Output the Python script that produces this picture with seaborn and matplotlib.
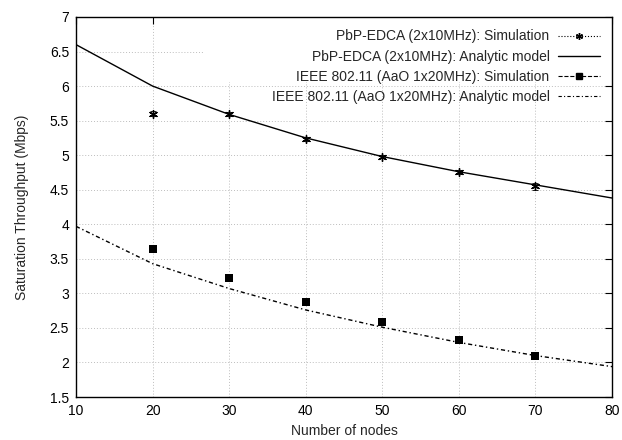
import matplotlib.pyplot as plt
from matplotlib.lines import Line2D
from matplotlib.patches import Rectangle
import pandas as pd
import seaborn as sns

# Data
nodes_model = [10, 20, 30, 40, 50, 60, 70, 80]
pbp_model = [6.60, 6.00, 5.59, 5.25, 4.98, 4.76, 4.57, 4.38]
ieee_model = [3.97, 3.43, 3.07, 2.76, 2.51, 2.29, 2.10, 1.94]

nodes_sim = [20, 30, 40, 50, 60, 70]
pbp_sim = [5.60, 5.60, 5.24, 4.98, 4.76, 4.55]
pbp_err = [0.04, 0.03, 0.03, 0.02, 0.03, 0.05]
ieee_sim = [3.64, 3.22, 2.88, 2.58, 2.32, 2.09]
ieee_err = [0.01, 0.01, 0.01, 0.01, 0.01, 0.01]

labels = [
    'PbP-EDCA (2x10MHz): Simulation',
    'PbP-EDCA (2x10MHz): Analytic model',
    'IEEE 802.11 (AaO 1x20MHz): Simulation',
    'IEEE 802.11 (AaO 1x20MHz): Analytic model',
]

model_df = pd.DataFrame({'nodes': nodes_model, 'pbp': pbp_model, 'ieee': ieee_model})
sim_df = pd.DataFrame({'nodes': nodes_sim, 'pbp': pbp_sim, 'ieee': ieee_sim})

sns.set_style('white')
plt.rcParams['font.family'] = ['Liberation Sans', 'DejaVu Sans']

fig = plt.figure(figsize=(6.22, 4.4), dpi=100)
ax = fig.add_axes([0.1222, 0.0977, 0.8618, 0.8637])

sns.lineplot(data=model_df, x='nodes', y='pbp', ax=ax, color='black', linewidth=1.0, zorder=3)
sns.lineplot(data=model_df, x='nodes', y='ieee', ax=ax, color='black', linewidth=1.0,
             linestyle=(0, (3, 2, 1, 2)), zorder=3)

ax.errorbar(sim_df['nodes'], sim_df['pbp'], yerr=pbp_err, fmt='none', ecolor='black',
            elinewidth=0.6, capsize=2, capthick=0.6, linestyle=':', zorder=3)
sns.scatterplot(data=sim_df, x='nodes', y='pbp', ax=ax, marker=(6, 2, 0), color='black',
                s=32, linewidth=1.0, zorder=4)
ax.errorbar(sim_df['nodes'], sim_df['ieee'], yerr=ieee_err, fmt='none', ecolor='black',
            elinewidth=0.6, capsize=2, capthick=0.6, zorder=3)
sns.scatterplot(data=sim_df, x='nodes', y='ieee', ax=ax, marker='s', color='black',
                s=38, linewidth=0, zorder=4)

ax.set_xlim(10, 80)
ax.set_ylim(1.5, 7)
ax.set_xticks(range(10, 81, 10))
ax.set_yticks([1.5, 2, 2.5, 3, 3.5, 4, 4.5, 5, 5.5, 6, 6.5, 7])
ax.set_yticklabels(['1.5', '2', '2.5', '3', '3.5', '4', '4.5', '5', '5.5', '6', '6.5', '7'])
ax.tick_params(direction='in', length=5, width=0.8, top=True, right=True,
               labelsize=10, pad=5, colors='black')
ax.set_xlabel('Number of nodes', fontsize=10, labelpad=4)
ax.set_ylabel('Saturation Throughput (Mbps)', fontsize=10, labelpad=15)
ax.grid(True, color='#bdbdbd', linestyle=(0, (1, 2)), linewidth=0.7)
ax.set_axisbelow(True)
for sp in ax.spines.values():
    sp.set_color('black')
    sp.set_linewidth(1.0)

# white key area hides the grid, like gnuplot
ax.add_patch(Rectangle((0.237, 0.83), 0.763, 0.17, transform=ax.transAxes,
                       facecolor='white', edgecolor='none', zorder=1.5))

# Gnuplot-style key: text on the left, samples on the right
handles = [
    Line2D([], [], color='black', linestyle=':', linewidth=0.8, marker=(6, 2, 0), markersize=5),
    Line2D([], [], color='black', linestyle='-', linewidth=1.0),
    Line2D([], [], color='black', linestyle='--', linewidth=0.8, marker='s', markersize=5),
    Line2D([], [], color='black', linestyle=(0, (3, 2, 1, 2)), linewidth=0.8),
]
leg = ax.legend(handles, labels, loc='upper right', markerfirst=False, frameon=False,
                fontsize=10, handlelength=3.0, labelspacing=0.45, borderaxespad=0.5,
                handletextpad=0.6)
for t in leg.get_texts():
    t.set_ha('right')
leg._legend_box.align = 'right'

fig.savefig('out.png', dpi=100)
